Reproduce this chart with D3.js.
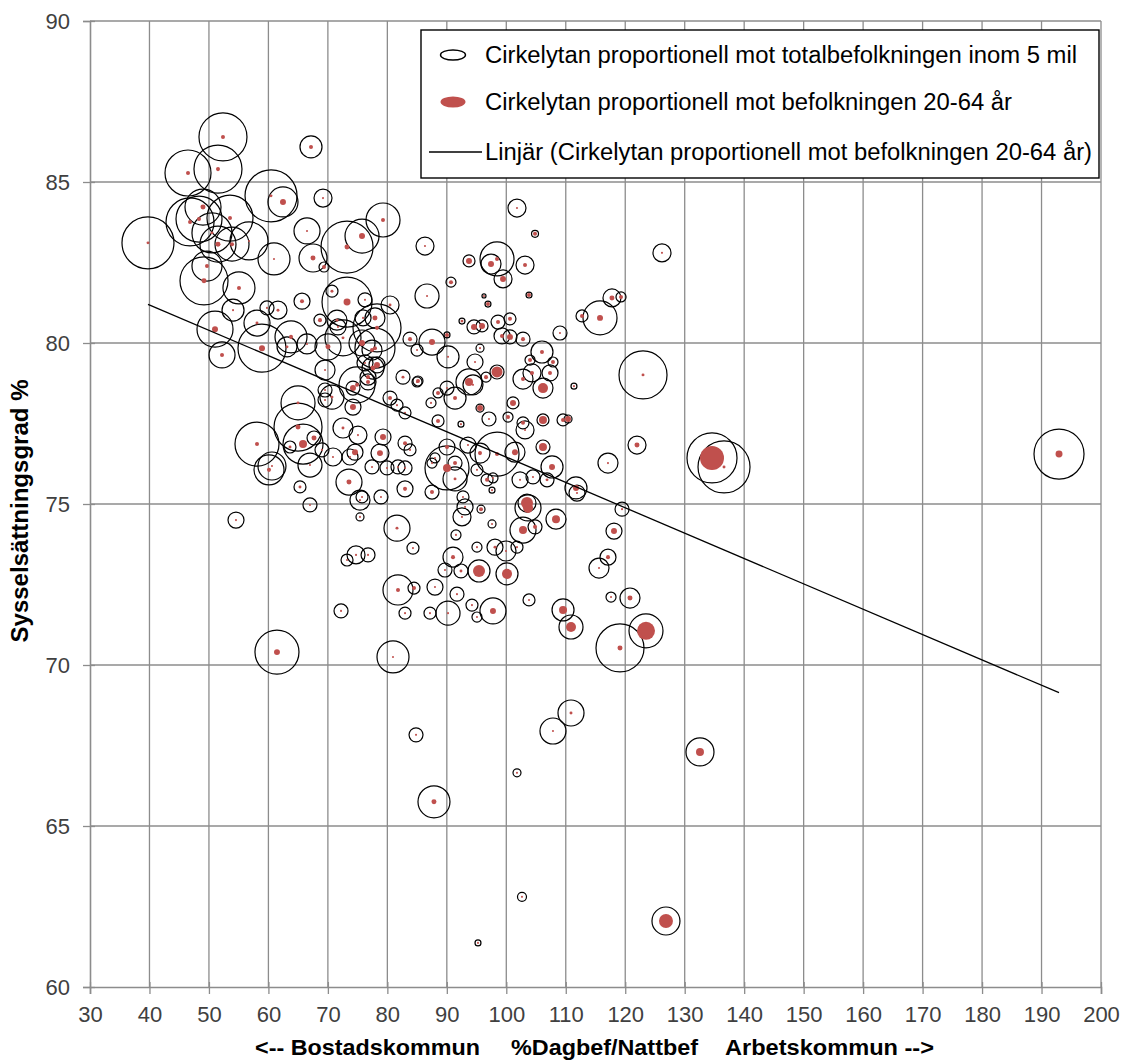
<!DOCTYPE html>
<html><head><meta charset="utf-8">
<script src="https://cdn.jsdelivr.net/npm/d3@7"></script>
<style>
body{margin:0;background:#fff}
svg{display:block}
text{font-family:"Liberation Sans",Arial,sans-serif}
</style>
</head><body>
<svg id="chart" width="1121" height="1062"></svg>
<script>
// x: %Dagbef/Nattbef, y: Sysselsättningsgrad %
const dagNatt = [
39.75,52.36,46.48,51.52,67.16,60.44,62.45,69.18,49.0,46.82,
48.33,53.54,51.52,53.88,56.74,50.51,49.67,49.17,55.05,60.94,
66.49,67.50,69.35,73.22,75.74,79.27,54.05,51.02,52.20,58.92,
58.08,59.76,61.61,65.65,63.80,63.13,66.49,70.02,69.52,73.22,
70.69,68.67,71.53,71.70,76.24,77.92,80.45,83.81,84.99,82.63,
84.99,77.59,76.75,78.26,77.92,74.90,72.54,75.91,75.74,77.42,
78.26,64.98,64.98,65.82,58.08,60.10,60.60,67.67,63.63,66.99,
69.01,70.86,65.31,66.99,54.55,75.40,73.55,73.72,74.56,75.40,
72.54,75.06,78.76,79.27,77.42,78.93,81.79,82.97,82.97,82.97,
81.62,84.31,74.73,76.75,73.22,69.52,69.52,74.22,76.75,80.45,
81.62,82.97,70.69,61.44,80.95,84.82,81.79,72.21,74.22,79.94,
83.81,75.74,76.24,101.80,104.83,86.33,98.44,97.43,93.73,99.45,
103.15,90.70,86.67,96.25,96.92,103.82,126.18,117.77,119.29,115.76,
112.73,92.55,94.57,95.92,98.61,100.62,99.28,100.62,102.81,109.03,
106.00,107.85,87.51,90.20,90.03,94.74,95.58,85.15,93.73,94.40,
96.59,98.44,102.81,104.32,107.35,106.17,111.38,122.99,90.03,91.38,
88.52,87.34,95.58,101.13,100.29,97.09,92.38,88.52,102.81,103.15,
106.17,109.54,110.38,106.17,107.69,121.98,117.10,98.44,95.58,101.46,
90.03,90.03,91.38,91.38,87.51,88.01,95.07,96.76,97.76,102.31,
104.49,106.85,103.48,92.72,97.60,87.51,111.72,111.89,119.46,103.65,
108.36,118.11,102.81,104.83,117.10,115.59,117.61,120.80,109.54,110.88,
95.41,100.12,97.76,90.20,103.82,95.07,98.10,99.95,101.80,91.04,
89.69,92.38,88.01,91.71,94.23,95.07,87.17,82.97,84.48,91.54,
97.60,92.55,93.06,95.75,93.56,123.49,119.12,134.59,136.61,192.94,
87.84,110.88,107.85,101.80,102.64,95.24,132.57,126.85,103.99
];
const syss = [
83.11,86.40,85.28,85.40,86.09,84.57,84.38,84.50,84.22,83.76,
83.85,83.88,83.07,83.07,83.17,83.42,82.39,81.93,81.71,82.61,
83.48,82.64,82.36,82.98,83.32,83.82,81.02,80.43,79.63,79.84,
80.62,81.09,81.02,81.30,80.19,79.88,79.97,79.88,79.16,81.27,
81.61,80.71,80.71,80.50,81.34,80.78,81.18,80.12,79.78,78.94,
78.79,79.22,78.94,80.47,79.84,78.70,80.16,80.78,80.00,79.78,
79.32,78.14,77.39,76.86,76.86,76.06,76.18,77.05,76.77,76.21,
76.68,76.46,75.53,74.97,74.50,74.60,75.68,76.46,76.61,75.12,
77.36,77.14,76.58,77.08,76.15,75.22,76.15,76.12,75.47,76.89,
74.25,73.63,73.42,73.42,73.26,78.54,78.23,78.60,78.79,78.29,
78.07,77.83,78.32,70.40,70.25,67.83,72.33,71.68,78.01,76.12,
76.68,75.22,79.38,84.19,83.39,83.01,82.61,82.45,82.55,81.99,
82.42,81.89,81.46,81.46,81.21,81.49,82.80,81.40,81.43,80.78,
80.84,80.68,80.50,80.53,80.65,80.75,80.22,80.19,80.12,80.31,
79.72,79.41,80.03,79.57,80.25,79.41,79.84,78.82,78.79,78.70,
78.94,79.10,78.88,79.07,79.07,78.60,78.66,79.01,78.60,78.29,
78.45,78.14,77.98,78.14,77.70,77.64,77.48,77.58,77.52,77.30,
77.61,77.61,77.64,76.77,76.15,76.83,76.27,76.55,76.58,76.61,
76.77,76.12,76.27,75.78,76.27,76.43,76.06,75.75,75.81,75.75,
75.84,75.75,75.03,75.22,75.43,75.37,75.50,75.34,74.84,74.88,
74.53,74.16,74.19,74.29,73.35,73.01,72.11,72.08,71.71,71.18,
72.92,72.83,71.68,71.61,72.02,73.66,73.66,73.54,73.66,73.35,
72.95,72.92,72.42,72.20,71.86,71.49,71.61,71.61,72.39,74.04,
74.38,74.60,74.91,74.84,76.83,71.06,70.53,76.43,76.15,76.55,
65.75,68.51,67.95,66.65,62.80,61.37,67.30,62.05,79.47
];
// total population within 5 mil (thousands) -> outline circle area
const befTot = [
2500,2131,1957,2131,448,2500,833,300,1199,2131,
1957,1957,1199,1069,1336,1480,833,2131,947,947,
625,725,93,2500,1069,1069,448,1199,625,2131,
625,181,300,237,947,370,370,625,370,2313,
133,133,370,237,181,370,300,181,133,181,
93,448,237,2131,1480,1199,1199,237,625,370,
237,1069,2131,1480,1791,833,725,181,133,533,
181,300,133,181,237,59,625,237,237,370,
370,300,300,237,181,181,181,181,237,181,
625,133,300,181,133,181,181,181,237,181,
133,133,533,1791,947,181,833,181,237,181,
133,133,237,300,45,300,1069,370,133,300,
300,93,533,15,33,33,300,300,93,1069,
133,33,181,133,181,133,237,181,181,181,
448,93,625,448,33,237,59,93,625,370,
93,181,370,300,237,370,33,2131,181,448,
93,93,59,133,93,181,33,133,133,300,
133,133,59,181,448,300,370,1791,370,370,
237,1791,181,533,93,93,133,133,93,237,
181,181,300,133,33,181,448,237,181,625,
370,237,625,181,237,370,93,370,448,533,
448,448,625,533,133,93,237,370,133,370,
181,181,237,181,133,93,133,133,133,93,
59,300,237,59,237,1069,2131,2313,2500,2313,
947,625,625,59,75,33,725,725,93
];
// population 20-64 (thousands) -> red dot area
const bef2064 = [
8,15,15,15,15,8,33,4,23,15,
15,15,23,15,4,8,15,23,15,4,
4,23,15,23,33,15,4,33,15,33,
8,4,8,15,15,8,4,23,4,45,
8,15,8,4,4,23,8,15,4,8,
4,23,15,15,15,15,8,4,33,15,
33,8,23,59,15,15,4,23,8,4,
4,4,8,4,4,4,23,4,33,4,
8,4,33,33,4,4,4,4,15,15,
8,4,4,4,4,4,4,33,15,15,
4,4,8,33,4,4,15,4,33,4,
4,4,4,4,15,4,15,33,33,33,
15,15,4,4,15,15,4,23,15,33,
15,8,33,33,15,15,15,33,15,4,
15,15,33,4,15,4,4,15,59,4,
15,112,15,15,15,93,4,8,4,15,
15,4,33,33,15,4,4,15,15,4,
59,15,33,59,33,23,4,15,15,33,
15,59,15,8,4,4,4,15,4,4,
4,8,133,4,4,15,33,4,4,93,
59,33,59,15,15,4,4,23,59,93,
133,93,33,4,4,4,8,4,4,15,
4,8,4,4,4,4,4,4,15,4,
4,4,4,15,4,300,23,533,8,45,
23,8,4,4,4,4,59,181,15
];
const trendX = [39.75, 192.94];
const trendY = [81.2, 69.14];
const xTicks = d3.range(30, 201, 10);
const yTicks = d3.range(60, 91, 5);
const legendLabels = [
  "Cirkelytan proportionell mot totalbefolkningen inom 5 mil",
  "Cirkelytan proportionell mot befolkningen 20-64 år",
  "Linjär (Cirkelytan proportionell mot befolkningen 20-64 år)"
];
const xTitleParts = ["<-- Bostadskommun", "%Dagbef/Nattbef", "Arbetskommun -->"];
const yTitle = "Sysselsättningsgrad %";

const n = Math.min(dagNatt.length, syss.length, befTot.length, bef2064.length);
const data = d3.range(n).map(i => ({x: dagNatt[i], y: syss[i], tot: befTot[i], w: bef2064[i]}));

const svg = d3.select("#chart");
const L = 90, R = 1101, T = 21, B = 987;
const x = d3.scaleLinear().domain([30, 200]).range([L, R]);
const y = d3.scaleLinear().domain([60, 90]).range([B, T]);
const r = d3.scaleSqrt().domain([0, 2500]).range([0, 26]);
const gridCol = "#8c8c8c";

// gridlines
const g = svg.append("g");
g.selectAll("line.v").data(xTicks.filter(d => d > 30)).join("line")
  .attr("x1", d => x(d)).attr("x2", d => x(d)).attr("y1", T).attr("y2", B)
  .attr("stroke", gridCol).attr("stroke-width", 1.3);
g.selectAll("line.h").data(yTicks.filter(d => d > 60)).join("line")
  .attr("x1", L).attr("x2", R).attr("y1", d => y(d)).attr("y2", d => y(d))
  .attr("stroke", gridCol).attr("stroke-width", 1.3);

// axes
const xAxis = svg.append("g").attr("transform", `translate(0,${B})`)
  .call(d3.axisBottom(x).tickValues(xTicks).tickSize(7).tickFormat(d3.format("d")));
xAxis.select(".domain").attr("stroke", gridCol).attr("stroke-width", 1.6);
xAxis.selectAll(".tick line").attr("stroke", gridCol).attr("stroke-width", 1.3).attr("y1", -5).attr("y2", 7);
xAxis.selectAll(".tick text").attr("y", 35).attr("dy", 0).attr("fill", "#404040")
  .style("font-size", "22px");

const yAxis = svg.append("g").attr("transform", `translate(${L},0)`)
  .call(d3.axisLeft(y).tickValues(yTicks).tickSize(7));
yAxis.select(".domain").attr("stroke", gridCol).attr("stroke-width", 1.6);
yAxis.selectAll(".tick line").attr("stroke", gridCol).attr("stroke-width", 1.3).attr("x1", 5).attr("x2", -7);
yAxis.selectAll(".tick text").attr("x", -20).attr("dy", "0.35em").attr("fill", "#404040")
  .style("font-size", "22px");
svg.selectAll(".domain").attr("fill", "none");

// outline bubbles (total population)
svg.append("g").selectAll("circle").data(data).join("circle")
  .attr("cx", d => x(d.x)).attr("cy", d => y(d.y)).attr("r", d => r(d.tot))
  .attr("fill", "none").attr("stroke", "#000").attr("stroke-width", 1.2);

// red bubbles (20-64)
svg.append("g").selectAll("circle").data(data).join("circle")
  .attr("cx", d => x(d.x)).attr("cy", d => y(d.y)).attr("r", d => r(d.w))
  .attr("fill", "#C0504D");

// trend line
svg.append("line")
  .attr("x1", x(trendX[0])).attr("y1", y(trendY[0]))
  .attr("x2", x(trendX[1])).attr("y2", y(trendY[1]))
  .attr("stroke", "#000").attr("stroke-width", 1.3);

// legend
const lg = svg.append("g");
lg.append("rect").attr("x", 421).attr("y", 30).attr("width", 678).attr("height", 148)
  .attr("fill", "#fff").attr("stroke", "#000").attr("stroke-width", 1.4);
const rowsY = [55, 102, 152];
const textLens = [592, 527, 607];
lg.append("ellipse").attr("cx", 453).attr("cy", rowsY[0]).attr("rx", 12.5).attr("ry", 5)
  .attr("fill", "none").attr("stroke", "#000").attr("stroke-width", 1.4);
lg.append("ellipse").attr("cx", 453).attr("cy", rowsY[1]).attr("rx", 12.5).attr("ry", 5.5)
  .attr("fill", "#C0504D");
lg.append("line").attr("x1", 429).attr("x2", 482).attr("y1", rowsY[2]).attr("y2", rowsY[2])
  .attr("stroke", "#000").attr("stroke-width", 1.3);
lg.selectAll("text").data(legendLabels).join("text")
  .attr("x", 485).attr("y", (d, i) => rowsY[i]).attr("dy", "0.35em")
  .attr("textLength", (d, i) => textLens[i]).attr("lengthAdjust", "spacingAndGlyphs")
  .style("font-size", "23px").attr("fill", "#000").text(d => d);

// axis titles
const xtStart = [255, 511, 725], xtLen = [225, 187, 209];
svg.append("g").selectAll("text").data(xTitleParts).join("text")
  .attr("x", (d, i) => xtStart[i]).attr("y", 1055)
  .attr("textLength", (d, i) => xtLen[i]).attr("lengthAdjust", "spacingAndGlyphs")
  .style("font-size", "22px").style("font-weight", "bold").attr("fill", "#000").text(d => d);
svg.append("text")
  .attr("transform", "translate(28,511) rotate(-90)")
  .attr("text-anchor", "middle")
  .attr("textLength", 263).attr("lengthAdjust", "spacingAndGlyphs")
  .style("font-size", "24px").style("font-weight", "bold").attr("fill", "#000").text(yTitle);
</script>
</body></html>
